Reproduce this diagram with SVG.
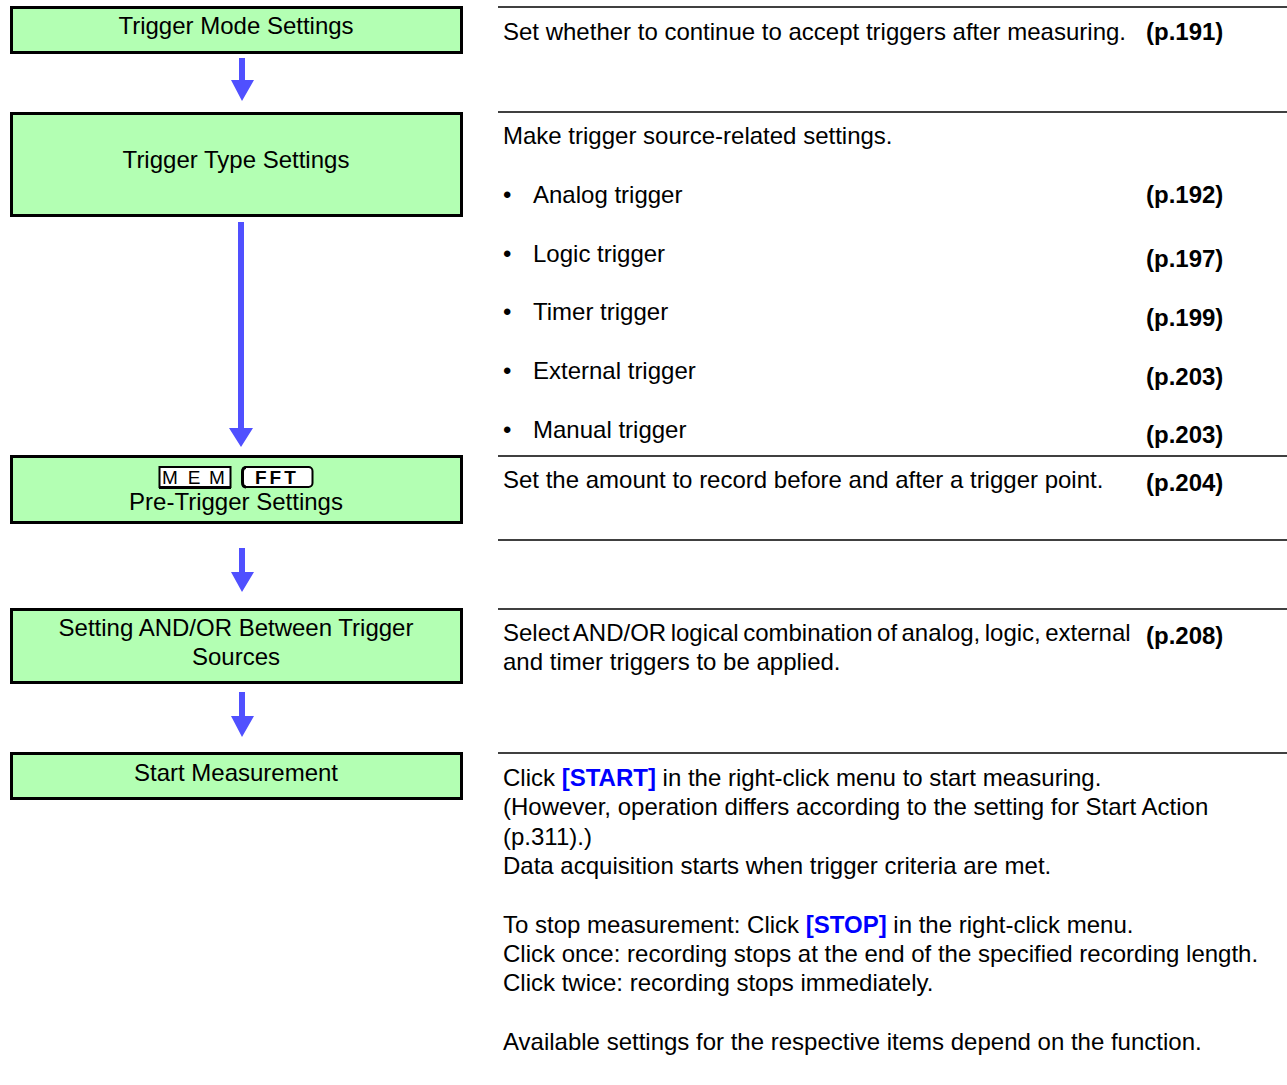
<svg xmlns="http://www.w3.org/2000/svg" width="1287" height="1085" viewBox="0 0 1287 1085">
<style>
.box{fill:#b3ffb3;stroke:#000;stroke-width:3}
.t{font-family:"Liberation Sans",Arial,sans-serif;font-size:24px;fill:#000}
.c{text-anchor:middle}
.b{font-weight:bold}
.blue{fill:#0000ff;font-weight:bold}
.rule{stroke:#000;stroke-width:1.5}
.arr{fill:#5050ff}
.badge{font-family:"Liberation Sans",Arial,sans-serif;font-size:19px;fill:#000}
</style>
<rect width="1287" height="1085" fill="#fff"/>
<g id="connectors">
<path class="arr" d="M239,58H245V80H254L242,101L231,80H239Z"/>
<path class="arr" d="M238,222H244V428H253L241,447L229,428H238Z"/>
<path class="arr" d="M239,548H245V572H254L242,592L231,572H239Z"/>
<path class="arr" d="M239,692H245V716H254L242,737L231,716H239Z"/>
</g>
<g id="node-mode">
<rect class="box" x="11.5" y="7.5" width="450" height="45"/>
<text class="t c" x="236" y="34">Trigger Mode Settings</text>
</g>
<g id="node-type">
<rect class="box" x="11.5" y="113.5" width="450" height="102"/>
<text class="t c" x="236" y="168">Trigger Type Settings</text>
</g>
<g id="node-pretrigger">
<rect class="box" x="11.5" y="456.5" width="450" height="66"/>
<rect x="159.5" y="467" width="71" height="20" fill="#fff" stroke="#000" stroke-width="2"/>
<line x1="159" y1="488" x2="231" y2="488" stroke="#000" stroke-width="2"/>
<text class="badge c" x="170" y="484">M</text>
<text class="badge c" x="194" y="484">E</text>
<text class="badge c" x="217" y="484">M</text>
<rect x="242.5" y="467" width="70" height="20" rx="4" fill="#fff" stroke="#000" stroke-width="2"/>
<path d="M246,467.5Q242.5,467.5 242.5,472V482Q242.5,487 246,487" fill="none" stroke="#000" stroke-width="3"/>
<text class="badge b" x="255" y="484" font-size="17" letter-spacing="3">FFT</text>
<text class="t c" x="236" y="510">Pre-Trigger Settings</text>
</g>
<g id="node-andor">
<rect class="box" x="11.5" y="609.5" width="450" height="73"/>
<text class="t c" x="236" y="636">Setting AND/OR Between Trigger</text>
<text class="t c" x="236" y="665">Sources</text>
</g>
<g id="node-start">
<rect class="box" x="11.5" y="753.5" width="450" height="45"/>
<text class="t c" x="236" y="781">Start Measurement</text>
</g>
<g id="descriptions">
<line class="rule" x1="498" y1="7" x2="1287" y2="7"/>
<line class="rule" x1="498" y1="112" x2="1287" y2="112"/>
<line class="rule" x1="498" y1="456" x2="1287" y2="456"/>
<line class="rule" x1="498" y1="540" x2="1287" y2="540"/>
<line class="rule" x1="498" y1="609" x2="1287" y2="609"/>
<line class="rule" x1="498" y1="753" x2="1287" y2="753"/>
<text class="t" x="503" y="40">Set whether to continue to accept triggers after measuring.</text>
<text class="t b" x="1146" y="40">(p.191)</text>
<text class="t" x="503" y="144">Make trigger source-related settings.</text>
<text class="t" x="503" y="203">•</text><text class="t" x="533" y="203">Analog trigger</text><text class="t b" x="1146" y="203">(p.192)</text>
<text class="t" x="503" y="262">•</text><text class="t" x="533" y="262">Logic trigger</text><text class="t b" x="1146" y="267">(p.197)</text>
<text class="t" x="503" y="320">•</text><text class="t" x="533" y="320">Timer trigger</text><text class="t b" x="1146" y="326">(p.199)</text>
<text class="t" x="503" y="379">•</text><text class="t" x="533" y="379">External trigger</text><text class="t b" x="1146" y="385">(p.203)</text>
<text class="t" x="503" y="438">•</text><text class="t" x="533" y="438">Manual trigger</text><text class="t b" x="1146" y="443">(p.203)</text>
<text class="t" x="503" y="488">Set the amount to record before and after a trigger point.</text>
<text class="t b" x="1146" y="491">(p.204)</text>
<text class="t" x="503" y="641" word-spacing="-2.2">Select AND/OR logical combination of analog, logic, external</text>
<text class="t b" x="1146" y="644">(p.208)</text>
<text class="t" x="503" y="670">and timer triggers to be applied.</text>
<text class="t" x="503" y="786">Click <tspan class="blue">[START]</tspan> in the right-click menu to start measuring.</text>
<text class="t" x="503" y="815">(However, operation differs according to the setting for Start Action</text>
<text class="t" x="503" y="845">(p.311).)</text>
<text class="t" x="503" y="874">Data acquisition starts when trigger criteria are met.</text>
<text class="t" x="503" y="933">To stop measurement: Click <tspan class="blue">[STOP]</tspan> in the right-click menu.</text>
<text class="t" x="503" y="962">Click once: recording stops at the end of the specified recording length.</text>
<text class="t" x="503" y="991">Click twice: recording stops immediately.</text>
<text class="t" x="503" y="1050">Available settings for the respective items depend on the function.</text>
</g>
</svg>
